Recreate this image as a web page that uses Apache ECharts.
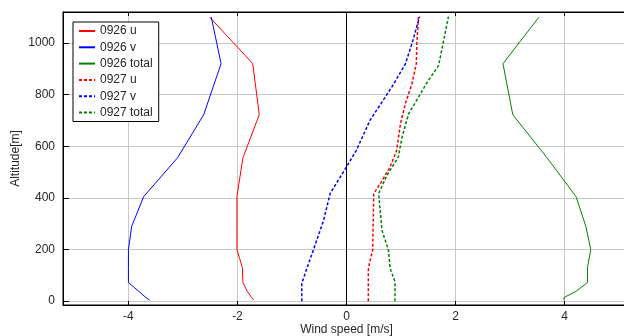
<!DOCTYPE html>
<html>
<head>
<meta charset="utf-8">
<script src="https://cdn.jsdelivr.net/npm/echarts@6/dist/echarts.min.js"></script>
<style>
  html, body { margin: 0; padding: 0; background: #fff; }
  #chart { width: 624px; height: 336px; }
</style>
</head>
<body>
<div id="chart"></div>
<script>
// altitude levels of the 0926 sounding [m]
const alt0926 = [4, 14, 38, 72, 130, 200, 290, 405, 555, 722, 920, 1100]
const u0926 = [-1.70, -1.74, -1.82, -1.90, -1.91, -2.01, -2.01, -2.01, -1.90, -1.60, -1.72, -2.51]
const v0926 = [-3.61, -3.68, -3.81, -4.00, -4.00, -4.00, -3.94, -3.72, -3.10, -2.62, -2.30, -2.48]
const total0926 = [3.99, 3.99, 4.21, 4.42, 4.42, 4.48, 4.39, 4.21, 3.68, 3.05, 2.87, 3.53]

// 0927 sounding, [speed, altitude]
const u0927 = [[0.40, 0], [0.40, 120], [0.42, 146], [0.48, 197], [0.50, 417], [0.62, 455],
  [0.80, 520], [0.92, 584], [0.99, 687], [1.08, 765], [1.20, 842], [1.28, 919], [1.29, 997], [1.32, 1100]]
const v0927 = [[-0.82, 0], [-0.82, 68], [-0.79, 88], [-0.61, 197], [-0.42, 313], [-0.30, 417],
  [0.0, 520], [0.18, 584], [0.43, 700], [0.83, 829], [1.08, 919], [1.20, 997], [1.34, 1102]]
const total0927 = [[0.89, 0], [0.89, 75], [0.80, 127], [0.77, 197], [0.65, 275], [0.59, 417],
  [0.74, 487], [0.95, 558], [1.02, 636], [1.14, 726], [1.32, 790], [1.48, 848], [1.69, 913],
  [1.77, 997], [1.87, 1102]]

const xTicks = [-4, -2, 0, 2, 4]
const yTicks = [0, 200, 400, 600, 800, 1000]

const font = 'Liberation Sans, Arial, sans-serif'
const textColor = '#262626'

const pair = (vals) => vals.map((v, i) => [v, alt0926[i]])

const lines = [
  { name: '0926 u', data: pair(u0926), color: '#ff0000', dashed: false },
  { name: '0926 v', data: pair(v0926), color: '#0000ff', dashed: false },
  { name: '0926 total', data: pair(total0926), color: '#008000', dashed: false },
  { name: '0927 u', data: u0927, color: '#ff0000', dashed: true },
  { name: '0927 v', data: v0927, color: '#0000ff', dashed: true },
  { name: '0927 total', data: total0927, color: '#008000', dashed: true },
]

const chart = echarts.init(document.getElementById('chart'), null, { renderer: 'canvas' })

const series = lines.map(({ name, data, color, dashed }) => ({
  name,
  type: 'line',
  data,
  symbol: 'none',
  z: 3,
  lineStyle: {
    color,
    width: dashed ? 1.5 : 1,
    type: dashed ? [3, 2] : 'solid',
  },
  itemStyle: { color },
}))

// vertical black line at zero speed
series[0].markLine = {
  silent: true,
  symbol: 'none',
  label: { show: false },
  lineStyle: { color: '#000', width: 1, type: 'solid' },
  data: [{ xAxis: 0 }],
  z: 2,
}

const tickStyle = { color: '#000' }

// the plot box runs a few pixels past the right edge of the picture
chart.setOption({
  animation: false,
  textStyle: { fontFamily: font },
  grid: {
    left: 63,
    top: 12,
    width: 567,
    height: 293,
    outerBoundsMode: 'none',
    containLabel: false,
    show: true,
    borderColor: '#000',
    borderWidth: 1,
  },
  legend: {
    orient: 'vertical',
    left: 73,
    top: 22,
    data: lines.map(({ name }) => name),
    backgroundColor: '#fff',
    borderColor: '#000',
    borderWidth: 1,
    borderRadius: 0,
    padding: [3, 6, 3, 5],
    itemWidth: 16,
    itemHeight: 14,
    itemGap: 4.3,
    itemStyle: { opacity: 0 },
    textStyle: { fontSize: 12, color: textColor, fontFamily: font },
  },
  xAxis: [
    {
      type: 'value',
      min: -5.2,
      max: 5.2,
      name: 'Wind speed [m/s]',
      nameLocation: 'middle',
      nameGap: 19,
      nameMoveOverlap: false,
      nameTextStyle: { fontSize: 12, color: textColor },
      axisLine: { show: true, onZero: false, lineStyle: { color: '#000', width: 1 } },
      axisTick: { show: true, inside: true, length: 4, customValues: xTicks, lineStyle: tickStyle },
      axisLabel: { fontSize: 12, color: textColor, margin: 6, customValues: xTicks },
      splitLine: { show: true, lineStyle: { color: '#c8c8c8', width: 1 } },
    },
    {
      type: 'value',
      position: 'top',
      min: -5.2,
      max: 5.2,
      axisLine: { show: true, onZero: false, lineStyle: { color: '#000', width: 1 } },
      axisTick: { show: true, inside: true, length: 4, customValues: xTicks, lineStyle: tickStyle },
      axisLabel: { show: false },
      splitLine: { show: false },
    },
  ],
  yAxis: [
    {
      type: 'value',
      min: -15,
      max: 1120,
      name: 'Altitude[m]',
      nameLocation: 'middle',
      nameGap: 41,
      nameMoveOverlap: false,
      nameTextStyle: { fontSize: 12, color: textColor },
      axisLine: { show: true, onZero: false, lineStyle: { color: '#000', width: 1 } },
      axisTick: { show: true, inside: true, length: 6, customValues: yTicks, lineStyle: tickStyle },
      axisLabel: {
        fontSize: 12,
        color: textColor,
        margin: 8,
        customValues: yTicks,
        formatter: (v) => String(v),
      },
      splitLine: { show: true, lineStyle: { color: '#c8c8c8', width: 1 } },
    },
    {
      type: 'value',
      position: 'right',
      min: -15,
      max: 1120,
      axisLine: { show: true, onZero: false, lineStyle: { color: '#000', width: 1 } },
      axisTick: { show: true, inside: true, length: 6, customValues: yTicks, lineStyle: tickStyle },
      axisLabel: { show: false },
      splitLine: { show: false },
    },
  ],
  series,
})
</script>
</body>
</html>
